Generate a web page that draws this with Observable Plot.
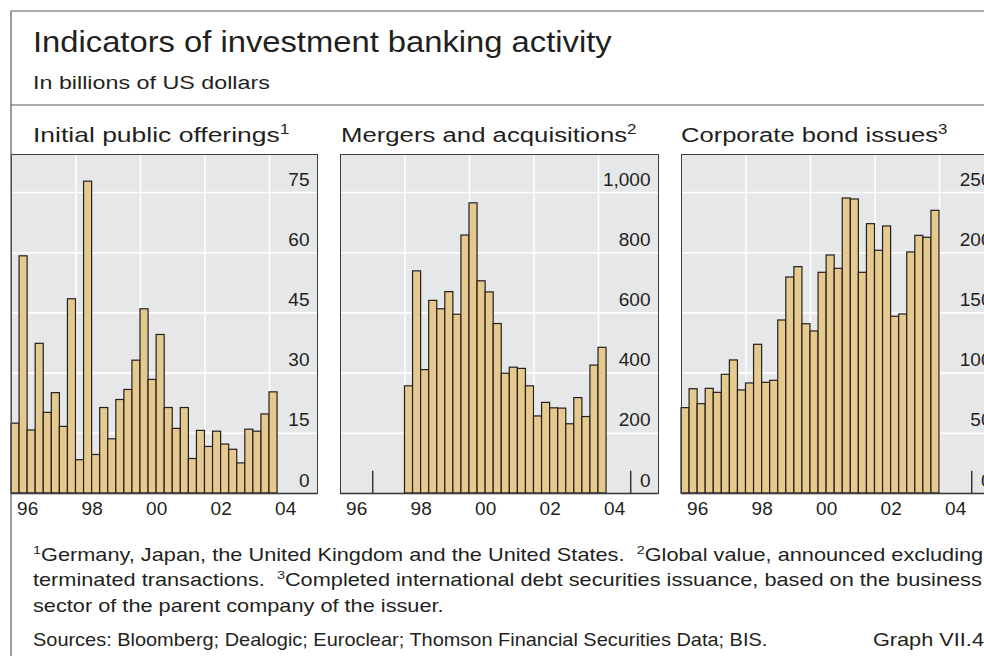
<!DOCTYPE html>
<html>
<head>
<meta charset="utf-8">
<script src="https://cdn.jsdelivr.net/npm/d3@7"></script>
<script src="https://cdn.jsdelivr.net/npm/@observablehq/plot@0.6"></script>
<style>
  html, body { margin: 0; padding: 0; background: #fff; }
  #page { position: relative; width: 984px; height: 656px; overflow: hidden; background: #fff;
          font-family: "Liberation Sans", Arial, sans-serif; color: #231f20; }
  .panel { position: absolute; }
  .panel svg { max-width: none !important; }
  #overlay { position: absolute; left: 0; top: 0; pointer-events: none; }
</style>
</head>
<body>
<div id="page"></div>
<script>
// ---------------- data (quarterly, billions of US dollars) ----------------
const ipoStart = 1996;   // 1996 Q1 .. 2004 Q1
const ipoValues = [17.4, 59.1, 15.7, 37.3, 20.1, 25.0, 16.6, 48.4, 8.3, 77.7, 9.6, 21.3,
                   13.5, 23.3, 25.8, 33.1, 45.9, 28.3, 39.5, 21.3, 16.1, 21.3, 8.6, 15.6,
                   11.6, 15.4, 12.2, 10.9, 7.5, 15.9, 15.4, 19.7, 25.2];
const maStart = 1998;    // 1998 Q1 .. 2004 Q1
const maValues = [356, 738, 410, 640, 612, 669, 594, 857, 964, 705, 668, 563,
                  398, 418, 414, 356, 256, 301, 283, 282, 230, 317, 254, 425, 484];
const corpStart = 1996;  // 1996 Q1 .. 2003 Q4
const corpValues = [70.9, 86.6, 74.2, 86.9, 83.6, 98.6, 110.5, 85.6, 91.4, 123.5, 91.9, 93.6,
                    143.7, 179.4, 188.0, 140.6, 134.6, 183.3, 197.7, 186.6, 245.0, 244.2, 183.3, 223.7,
                    201.6, 221.8, 146.8, 148.7, 200.2, 214.0, 212.4, 234.8];

const ipoTicks = [0, 15, 30, 45, 60, 75];
const maTicks = [0, 200, 400, 600, 800, 1000];
const corpTicks = [0, 50, 100, 150, 200, 250];
const yearLabels = [1996, 1998, 2000, 2002, 2004];
const gridYears = [1998, 2000, 2002, 2004];
const ipoMarkers = [];
const maMarkers = [1997, 2005];
const corpMarkers = [2005];

const panelTitles = [["Initial public offerings", "1"], ["Mergers and acquisitions", "2"], ["Corporate bond issues", "3"]];
const titleText = "Indicators of investment banking activity";
const subtitleText = "In billions of US dollars";
const footLine1 = [["1", true], ["Germany, Japan, the United Kingdom and the United States.  "], ["2", true], ["Global value, announced excluding"]];
const footLine2 = [["terminated transactions.  "], ["3", true], ["Completed international debt securities issuance, based on the business"]];
const footLine3 = [["sector of the parent company of the issuer."]];
const sourcesText = "Sources: Bloomberg; Dealogic; Euroclear; Thomson Financial Securities Data; BIS.";
const graphId = "Graph VII.4";

// ---------------- styling ----------------
const FONT = "'Liberation Sans', Arial, sans-serif";
const INK = "#231f20";
const BAR = "#e6c98d";
const BG = "#e6e7e9";
const PX_PER_YEAR = 32.25;
const PANEL_TOP = 154;
const PANEL_H = 339;

const page = document.getElementById("page");

function panel({values, start, ticks, yMax, width, markers, left, fmt}) {
  const data = values.map((v, i) => ({x1: start + i * 0.25, x2: start + (i + 1) * 0.25, v}));
  const xMax = 1996 + width / PX_PER_YEAR;
  const chart = Plot.plot({
    width: width + 2,
    height: PANEL_H + 1 + 40,
    marginLeft: 1, marginRight: 1, marginTop: 1, marginBottom: 40,
    x: {domain: [1996, xMax]},
    y: {domain: [0, yMax], axis: null},
    style: {background: "transparent", fontFamily: FONT, overflow: "visible", color: INK, maxWidth: "none"},
    marks: [
      Plot.frame({fill: BG, stroke: "none"}),
      Plot.ruleX(gridYears, {stroke: "#fff", strokeWidth: 1.6}),
      Plot.ruleY(ticks.filter(t => t > 0), {stroke: "#fff", strokeWidth: 1.6}),
      Plot.rectY(data, {x1: "x1", x2: "x2", y: "v", fill: BAR, stroke: INK, strokeWidth: 1.2}),
      Plot.ruleX(markers, {y1: 0, y2: yMax * 0.066, stroke: INK, strokeWidth: 1.3}),
      Plot.text(ticks, {x: () => xMax, y: d => d, text: fmt, textAnchor: "end", lineAnchor: "bottom",
                        dx: -8, dy: -7, fontSize: 19, fill: INK}),
      Plot.ruleY([0], {stroke: INK, strokeWidth: 1.6}),
      Plot.frame({stroke: "#3c3c3c", strokeWidth: 1}),
      Plot.axisX(yearLabels.map(y => y + 0.5), {tickSize: 0, tickPadding: 8, fontSize: 19, fill: INK,
                 tickFormat: d => String(Math.floor(d) % 100).padStart(2, "0"), label: null})
    ]
  });
  const div = document.createElement("div");
  div.className = "panel";
  div.style.left = (left - 1) + "px";
  div.style.top = (PANEL_TOP - 1) + "px";
  div.style.width = (width + 2) + "px";
  div.appendChild(chart);
  page.appendChild(div);
}

const fmtInt = d3.format(",");
panel({values: ipoValues, start: ipoStart, ticks: ipoTicks, yMax: PANEL_H / (60.2 / 15), width: 306, markers: ipoMarkers, left: 11, fmt: d => fmtInt(d)});
panel({values: maValues, start: maStart, ticks: maTicks, yMax: PANEL_H / (60.2 / 200), width: 318, markers: maMarkers, left: 340, fmt: d => fmtInt(d)});
panel({values: corpValues, start: corpStart, ticks: corpTicks, yMax: PANEL_H / (60.2 / 50), width: 318, markers: corpMarkers, left: 681, fmt: d => fmtInt(d)});

// ---------------- overlay: frame lines and texts ----------------
const NS = "http://www.w3.org/2000/svg";
const svg = document.createElementNS(NS, "svg");
svg.setAttribute("id", "overlay");
svg.setAttribute("width", 984);
svg.setAttribute("height", 656);
page.appendChild(svg);

function line(x1, y1, x2, y2, stroke = "#5a5a5a", w = 1.2) {
  const l = document.createElementNS(NS, "line");
  l.setAttribute("x1", x1); l.setAttribute("y1", y1); l.setAttribute("x2", x2); l.setAttribute("y2", y2);
  l.setAttribute("stroke", stroke); l.setAttribute("stroke-width", w);
  svg.appendChild(l);
}
line(11, 11, 1000, 11);
line(11, 11, 11, 700);
line(11, 105, 1000, 105);

function addText(parts, {x, y, size, anchor = "start"}) {
  const t = document.createElementNS(NS, "text");
  t.setAttribute("x", x); t.setAttribute("y", y);
  t.setAttribute("font-size", size);
  t.setAttribute("font-family", FONT);
  t.setAttribute("fill", INK);
  t.setAttribute("text-anchor", anchor);
  t.style.whiteSpace = "pre";
  t._x = x;
  let raised = false;
  for (const p of parts) {
    const [str, sup] = Array.isArray(p) ? p : [p, false];
    const s = document.createElementNS(NS, "tspan");
    s.textContent = str;
    if (sup && !raised) { s.setAttribute("dy", -0.38 * size); s.setAttribute("font-size", 0.66 * size); raised = true; }
    else if (!sup && raised) { s.setAttribute("dy", 0.38 * size); raised = false; }
    else if (sup) { s.setAttribute("font-size", 0.66 * size); }
    t.appendChild(s);
  }
  svg.appendChild(t);
  return t;
}
function scaleX(t, k) {
  const x = t._x;
  t.setAttribute("transform", `translate(${x},0) scale(${k},1) translate(${-x},0)`);
}
function fitWidth(t, target) {
  const k = target / t.getBBox().width;
  scaleX(t, k);
  return k;
}
function justify(t, target, k) {
  const n = t.getBBox().width;
  const spaces = (t.textContent.match(/ /g) || []).length;
  t.setAttribute("word-spacing", (target / k - n) / Math.max(1, spaces));
  scaleX(t, k);
}

fitWidth(addText([titleText], {x: 33, y: 52, size: 30}), 579);
fitWidth(addText([subtitleText], {x: 33, y: 89, size: 19}), 237);
const titleX = [33, 341, 681], titleW = [257, 296, 267];
panelTitles.forEach(([main, sup], i) => {
  fitWidth(addText([[main], [sup, true]], {x: titleX[i], y: 142, size: 21}), titleW[i]);
});
const k3 = fitWidth(addText(footLine3, {x: 33, y: 612, size: 17.5}), 411);
justify(addText(footLine1, {x: 33, y: 561, size: 17.5}), 951, k3);
justify(addText(footLine2, {x: 33, y: 586, size: 17.5}), 950, k3);
fitWidth(addText([sourcesText], {x: 33, y: 646, size: 17.5}), 735);
scaleX(addText([graphId], {x: 984, y: 646, size: 17.5, anchor: "end"}), k3);
</script>
</body>
</html>
